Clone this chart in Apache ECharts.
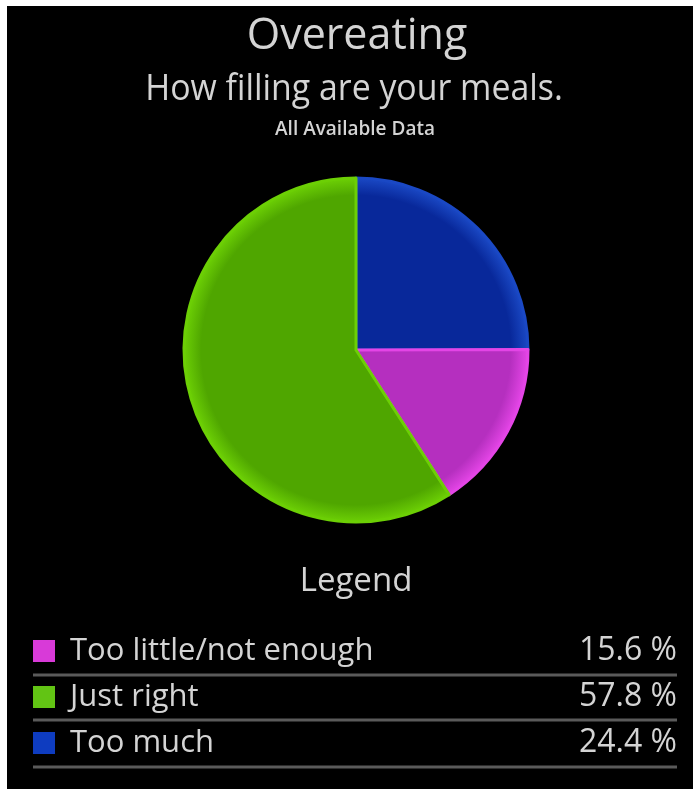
<!DOCTYPE html>
<html>
<head>
<meta charset="utf-8">
<script src="https://cdn.jsdelivr.net/npm/echarts@6/dist/echarts.min.js"></script>
<style>
  html, body { margin: 0; padding: 0; background: #fff; }
  #chart { width: 693px; height: 789px; }
</style>
</head>
<body>
<div id="chart"></div>
<script>
// Survey answers, in the order they appear in the legend
const categories = ['Too little/not enough', 'Just right', 'Too much'];
const percents = [15.6, 57.8, 24.4];
// Slice order round the pie, clockwise from twelve o'clock
const sliceOrder = ['Too much', 'Too little/not enough', 'Just right'];

const fillInner = {
  'Too little/not enough': '#b52fbf',
  'Just right': '#4fa600',
  'Too much': '#08289a'
};
const fillEdge = {
  'Too little/not enough': '#e445e6',
  'Just right': '#6ccf05',
  'Too much': '#1a48c4'
};
const swatch = {
  'Too little/not enough': '#d83ad8',
  'Just right': '#62c414',
  'Too much': '#0e3cc0'
};

const cx = 356, cy = 350, R = 172;
const textColor = '#d4d4d4';
const font = '"Open Sans", "Noto Sans", sans-serif';

function sliceStyle(name) {
  return {
    color: {
      type: 'radial', x: cx, y: cy, r: R, global: true,
      colorStops: [
        { offset: 0, color: fillInner[name] },
        { offset: 0.9, color: fillInner[name] },
        { offset: 1, color: fillEdge[name] }
      ]
    },
    borderColor: fillEdge[name],
    borderWidth: 3
  };
}

const pieData = sliceOrder.map(name => ({
  name: name,
  value: percents[categories.indexOf(name)],
  itemStyle: sliceStyle(name)
}));

const legendRowsY = [655, 701, 747];
const separatorsY = [675, 720, 767];
const rowH = 40;

// One legend block per row so each row sits on its own separator
const legends = categories.map((name, i) => ({
  orient: 'vertical',
  left: 33,
  top: legendRowsY[i] - rowH / 2,
  padding: 0,
  itemWidth: 22,
  itemHeight: 22,
  icon: 'rect',
  selectedMode: false,
  data: [{ name: name, itemStyle: { color: swatch[name], borderWidth: 0 } }],
  formatter: function (n) {
    const v = percents[categories.indexOf(n)];
    return '{n|' + n + '}{v|' + v.toFixed(1) + ' %}';
  },
  textStyle: {
    color: textColor,
    fontFamily: font,
    fontSize: 31,
    rich: {
      n: { width: 460, padding: [0, 0, 0, 10], fontSize: 31, color: textColor, fontFamily: font, height: rowH },
      v: { width: 147, align: 'right', fontSize: 32, color: textColor, fontFamily: font, height: rowH }
    }
  }
}));

const chart = echarts.init(document.getElementById('chart'), null, { renderer: 'canvas' });

chart.setOption({
  backgroundColor: '#000',
  animation: false,
  legend: legends,
  series: [{
    type: 'pie',
    center: [cx, cy],
    radius: [0, R],
    startAngle: 90,
    clockwise: true,
    label: { show: false },
    labelLine: { show: false },
    emphasis: { disabled: true },
    data: pieData
  }],
  graphic: [
    { type: 'rect', shape: { x: 0, y: 0, width: 693, height: 6 }, style: { fill: '#fff' }, z: 100 },
    { type: 'rect', shape: { x: 0, y: 0, width: 7, height: 789 }, style: { fill: '#fff' }, z: 100 },
    { type: 'text', x: 357, y: 37, style: { text: 'Overeating', fill: textColor, font: '43px ' + font, textAlign: 'center', textVerticalAlign: 'middle' } },
    { type: 'text', x: 354, y: 90, scaleX: 0.94, style: { text: 'How filling are your meals.', fill: textColor, font: '36px ' + font, textAlign: 'center', textVerticalAlign: 'middle' } },
    { type: 'text', x: 355, y: 130, style: { text: 'All Available Data', fill: textColor, font: '600 19px ' + font, textAlign: 'center', textVerticalAlign: 'middle' } },
    { type: 'text', x: 356, y: 582, style: { text: 'Legend', fill: textColor, font: '33px ' + font, textAlign: 'center', textVerticalAlign: 'middle' } }
  ].concat(separatorsY.map(y => ({
    type: 'line',
    shape: { x1: 33, y1: y, x2: 677, y2: y },
    style: { stroke: '#5a5a5a', lineWidth: 3 }
  })))
});
</script>
</body>
</html>
